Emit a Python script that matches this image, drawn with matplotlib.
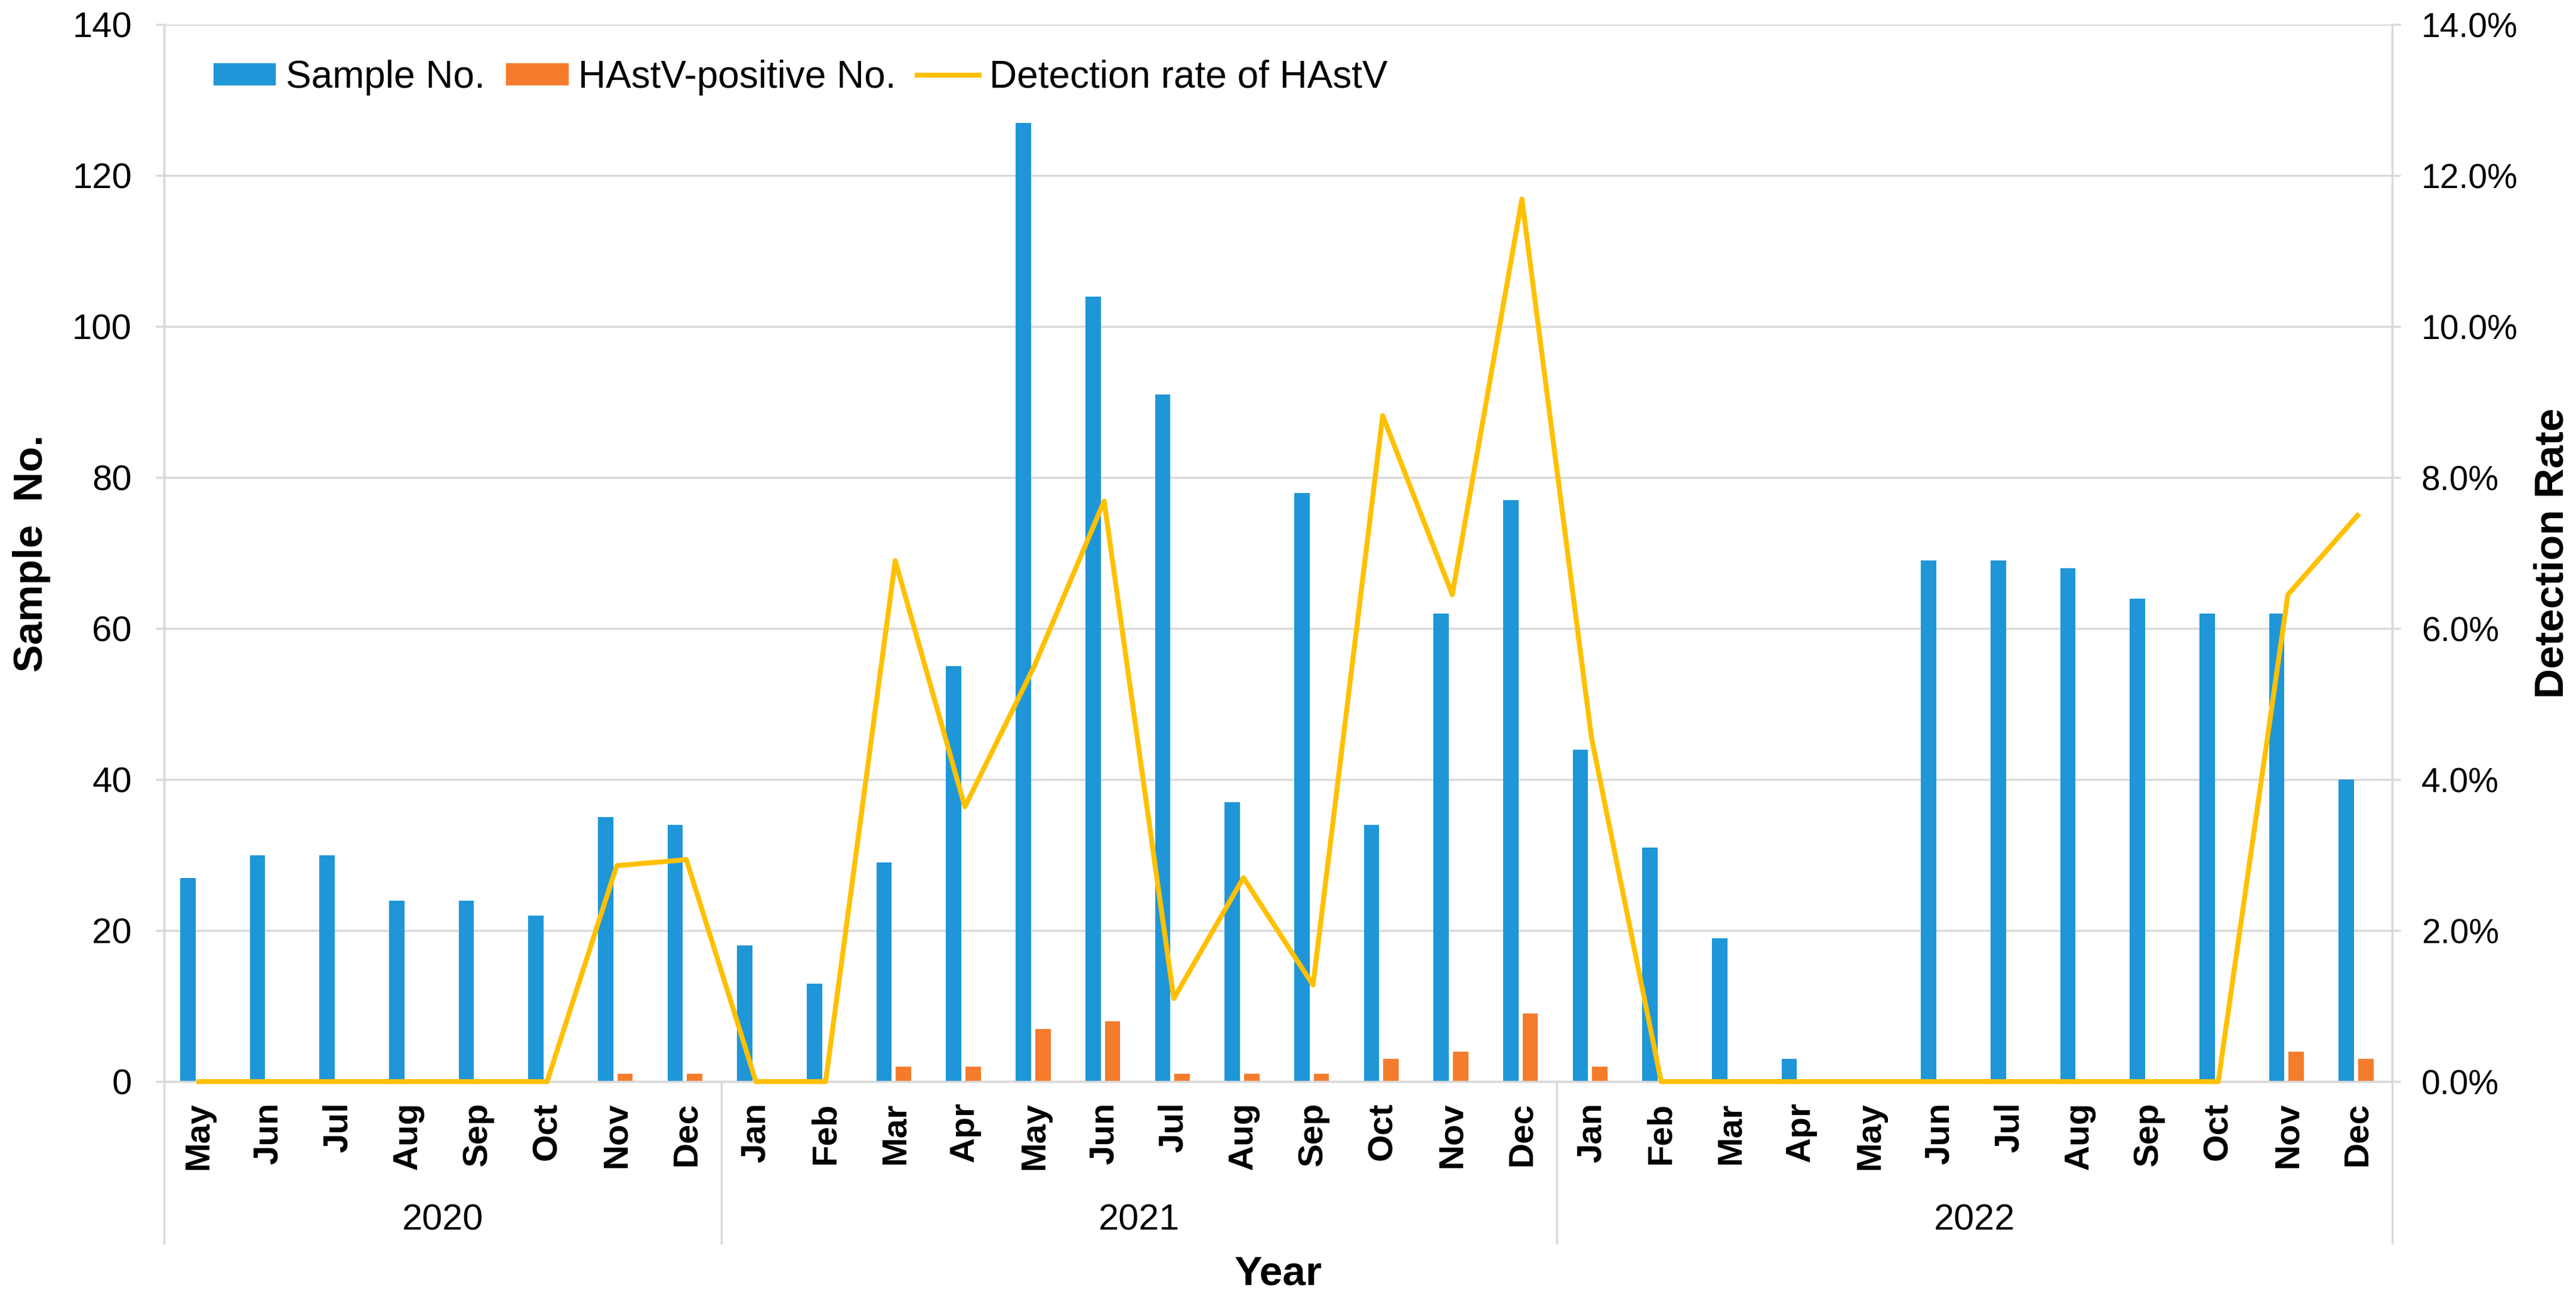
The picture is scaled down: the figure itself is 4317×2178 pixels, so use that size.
import matplotlib
matplotlib.use("Agg")
import matplotlib.pyplot as plt
from matplotlib.patches import Patch
from matplotlib.lines import Line2D
from matplotlib.ticker import FormatStrFormatter, MultipleLocator
import numpy as np

plt.rcParams['font.family'] = ['Liberation Sans', 'DejaVu Sans']

YEARS = ['2020', '2021', '2022']
MONTHS_2020 = ['May', 'Jun', 'Jul', 'Aug', 'Sep', 'Oct', 'Nov', 'Dec']
MONTHS_FULL = ['Jan', 'Feb', 'Mar', 'Apr', 'May', 'Jun',
               'Jul', 'Aug', 'Sep', 'Oct', 'Nov', 'Dec']
MONTHS = MONTHS_2020 + MONTHS_FULL + MONTHS_FULL

samples = [27, 30, 30, 24, 24, 22, 35, 34,
           18, 13, 29, 55, 127, 104, 91, 37, 78, 34, 62, 77,
           44, 31, 19, 3, 0, 69, 69, 68, 64, 62, 62, 40]
positives = [0, 0, 0, 0, 0, 0, 1, 1,
             0, 0, 2, 2, 7, 8, 1, 1, 1, 3, 4, 9,
             2, 0, 0, 0, 0, 0, 0, 0, 0, 0, 4, 3]
rate = [0, 0, 0, 0, 0, 0, 2.86, 2.94,
        0, 0, 6.9, 3.64, 5.51, 7.69, 1.1, 2.7, 1.28, 8.82, 6.45, 11.69,
        4.55, 0, 0, 0, 0, 0, 0, 0, 0, 0, 6.45, 7.5]

BLUE = '#1E96D8'
ORANGE = '#F47C2C'
GOLD = '#FFC000'
GRID = '#D9D9D9'

fig = plt.figure(figsize=(43.17, 21.78), dpi=100)
ax = fig.add_axes([0.0637, 0.168, 0.865, 0.813])
ax2 = ax.twinx()

x = np.arange(len(samples))
w = 0.22
ax.bar(x - 0.16, samples, w, color=BLUE, zorder=3)
ax.bar(x + 0.12, positives, w, color=ORANGE, zorder=3)
ax2.plot(x, rate, color=GOLD, lw=6, zorder=4, clip_on=False)

ax.set_xlim(-0.5, len(samples) - 0.5)
ax.set_ylim(0, 140)
ax2.set_ylim(0, 14)
ax.yaxis.set_major_locator(MultipleLocator(20))
ax2.yaxis.set_major_locator(MultipleLocator(2))
ax2.yaxis.set_major_formatter(FormatStrFormatter('%.1f%%'))

ax.set_axisbelow(True)
ax.grid(axis='y', color=GRID, lw=2.5, zorder=0)
for a in (ax, ax2):
    a.spines['top'].set_visible(False)
    for side in ('bottom', 'left', 'right'):
        a.spines[side].set_color(GRID)
        a.spines[side].set_linewidth(2.5)

ax.tick_params(axis='y', length=10, width=2.5, color=GRID, pad=29,
               labelsize=43)
ax2.tick_params(axis='y', length=10, width=2.5, color=GRID, pad=25,
                labelsize=41)
ax.set_xticks(x)
ax.set_xticklabels(MONTHS, rotation=90, fontweight='bold', fontsize=42,
                   ha='center', va='top')
ax.tick_params(axis='x', length=0, pad=25)
ax2.tick_params(axis='x', length=0)

# multi-level category axis: year separators and year labels
sep_bottom = -0.153
bounds = [-0.5, 7.5, 19.5, 31.5]
trans = ax.get_xaxis_transform()
for b in bounds:
    ax.plot([b, b], [0, sep_bottom], color=GRID, lw=2.5,
            transform=trans, clip_on=False)
for i, yr in enumerate(YEARS):
    ax.text((bounds[i] + bounds[i + 1]) / 2, -0.1316, yr, transform=trans,
            ha='center', va='center', fontsize=44)

ax.text(0.5, -0.182, 'Year', transform=ax.transAxes, ha='center',
        va='center', fontsize=50, fontweight='bold')
ax.text(-0.0595, 0.5, 'Sample  No.', transform=ax.transAxes, ha='center',
        va='center', rotation=90, fontsize=50, fontweight='bold')
ax.text(1.0718, 0.5, 'Detection Rate', transform=ax.transAxes, ha='center',
        va='center', rotation=90, fontsize=50, fontweight='bold')

handles = [Patch(color=BLUE), Patch(color=ORANGE),
           Line2D([], [], color=GOLD, lw=6)]
labels = ['Sample No.', 'HAstV-positive No.', 'Detection rate of HAstV']
ax2.legend(handles, labels, loc='center left', bbox_to_anchor=(0.0222, 0.95),
           ncols=3, frameon=False, fontsize=46, borderpad=0, borderaxespad=0,
           handlelength=1.62, handleheight=0.5, handletextpad=0.27,
           columnspacing=0.56)

plt.savefig('out.png', dpi=100)
